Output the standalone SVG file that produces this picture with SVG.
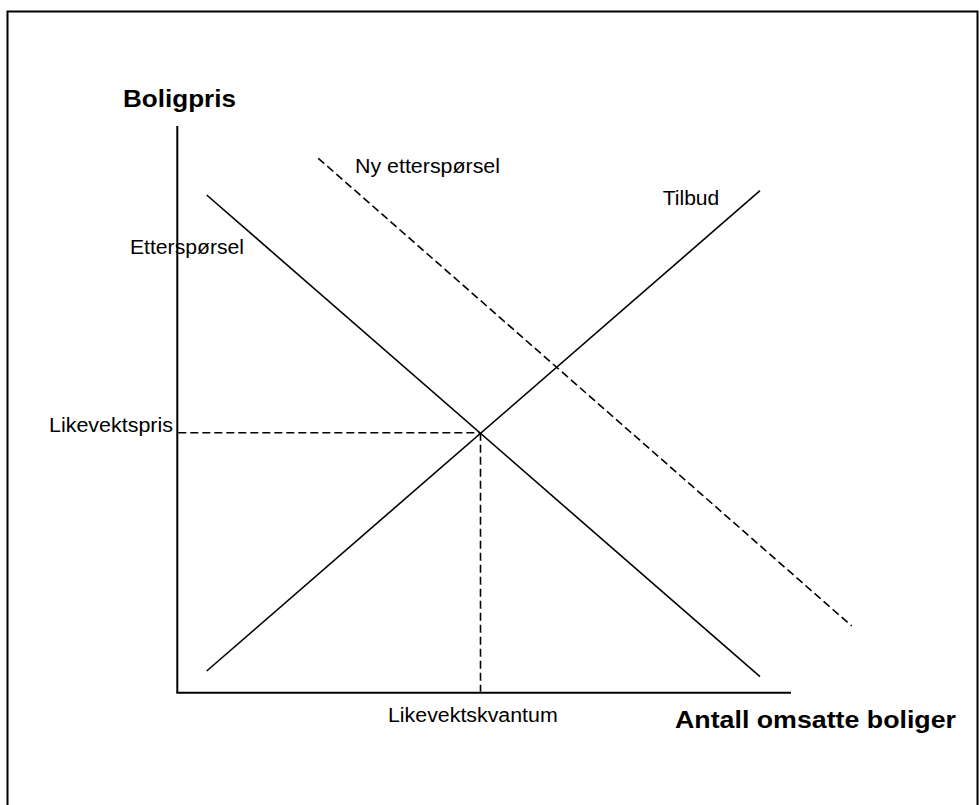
<svg xmlns="http://www.w3.org/2000/svg" width="980" height="805" viewBox="0 0 980 805">
<style>
.t{font-family:"Liberation Sans",Arial,sans-serif;fill:#000}
.lbl{font-size:20px}
.ax{font-size:24px;font-weight:bold}
.axis{stroke:#000;stroke-width:2;fill:none}
.curve{stroke:#000;stroke-width:1.6;fill:none}
.dash{stroke:#000;stroke-width:1.6;fill:none;stroke-dasharray:8 4}
</style>
<rect x="0" y="0" width="980" height="805" fill="#fff"/>
<rect id="frame" x="7.5" y="11.5" width="970" height="820" fill="none" stroke="#000" stroke-width="2"/>
<g id="axes">
<line class="axis" x1="177.3" y1="126" x2="177.3" y2="692.7"/>
<line class="axis" x1="176.3" y1="692.7" x2="791" y2="692.7"/>
<text class="t ax" x="123" y="107" textLength="113" lengthAdjust="spacingAndGlyphs">Boligpris</text>
<text class="t ax" x="675" y="728" textLength="281" lengthAdjust="spacingAndGlyphs">Antall omsatte boliger</text>
</g>
<g id="connectors">
<line id="ettersporsel" class="curve" x1="206.7" y1="195" x2="760" y2="676.7"/>
<line id="tilbud" class="curve" x1="206.7" y1="671" x2="760" y2="190.7"/>
<line id="ny-ettersporsel" class="dash" x1="318.3" y1="158.3" x2="851.7" y2="626"/>
<line id="pris-linje" class="dash" x1="178.3" y1="432.7" x2="480.5" y2="432.7"/>
<line id="kvantum-linje" class="dash" x1="480.5" y1="432.7" x2="480.5" y2="691.7"/>
</g>
<g id="labels">
<text class="t lbl" x="130" y="254" textLength="114" lengthAdjust="spacingAndGlyphs">Etterspørsel</text>
<text class="t lbl" x="355" y="172.7" textLength="145" lengthAdjust="spacingAndGlyphs">Ny etterspørsel</text>
<text class="t lbl" x="662.7" y="205" textLength="56.6" lengthAdjust="spacingAndGlyphs">Tilbud</text>
<text class="t lbl" x="49" y="431.7" textLength="124" lengthAdjust="spacingAndGlyphs">Likevektspris</text>
<text class="t lbl" x="388" y="721.7" textLength="169.7" lengthAdjust="spacingAndGlyphs">Likevektskvantum</text>
</g>
</svg>
